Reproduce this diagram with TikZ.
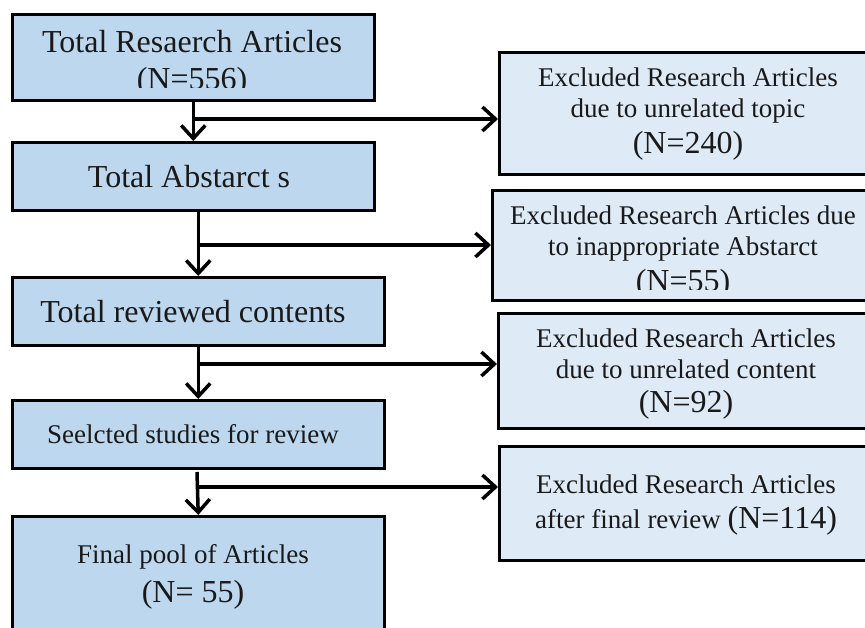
\documentclass[tikz,border=0pt]{standalone}
\usepackage{fontspec}
\setmainfont{Liberation Serif}
\usetikzlibrary{arrows.meta}
\definecolor{leftfill}{HTML}{BDD7EE}
\definecolor{rightfill}{HTML}{DEEAF6}
\newcommand{\fsmall}{\fontsize{27}{31}\selectfont}
\newcommand{\fbig}{\fontsize{32}{31}\selectfont}
\tikzset{
  lbox/.style={draw=black, line width=2.5pt, fill=leftfill, rectangle, inner sep=0pt, anchor=north west},
  rbox/.style={draw=black, line width=2.5pt, fill=rightfill, rectangle, inner sep=0pt, anchor=north west},
  txt/.style={align=center, inner sep=0pt, anchor=base, text=black!90},
  conn/.style={line width=3.5pt, -{Straight Barb[length=13pt,width=24pt]}},
  plain/.style={line width=3.5pt}
}
\begin{document}
\begin{tikzpicture}[x=1pt,y=-1pt]
\useasboundingbox (0,0) rectangle (865,627);
\begin{scope}
\clip (0,0) rectangle (865,627);
% left boxes
\node[lbox, minimum width=362pt, minimum height=86pt] (b1) at (11,13) {};
\node[lbox, minimum width=362pt, minimum height=68pt] (b2) at (11,141) {};
\node[lbox, minimum width=372pt, minimum height=68pt] (b3) at (11,276) {};
\node[lbox, minimum width=372pt, minimum height=68pt] (b4) at (11,399) {};
\node[lbox, minimum width=372pt, minimum height=125pt] (b5) at (11,515) {};
% right boxes
\node[rbox, minimum width=382pt, minimum height=122pt] (r1) at (498,51) {};
\node[rbox, minimum width=389pt, minimum height=110pt] (r2) at (491,189) {};
\node[rbox, minimum width=383pt, minimum height=115pt] (r3) at (497,312) {};
\node[rbox, minimum width=382pt, minimum height=114pt] (r4) at (498,445) {};
\end{scope}
% texts (anchor=base is the baseline of the last line)
\begin{scope}
\clip (13,15) rectangle (371,87);
\node[txt, font=\fbig] (t1) at (192,89) {Total Resaerch Articles\\[6pt](N=556)};
\end{scope}
\node[txt, font=\fbig] (t2) at (189,187) {Total Abstarct s};
\node[txt, font=\fbig] (t3) at (193,322) {Total reviewed contents};
\node[txt, font=\fsmall] (t4) at (193,443) {Seelcted studies for review};
\node[txt, font=\fsmall] (t5) at (193,602) {Final pool of Articles\\[8pt]{\fbig (N= 55)}};
\node[txt, font=\fsmall] (t6) at (688,153) {Excluded Research Articles\\due to unrelated topic\\[5pt]{\fbig (N=240)}};
\begin{scope}
\clip (493,191) rectangle (865,289);
\node[txt, font=\fsmall] (t7) at (683,291) {Excluded Research Articles due\\to inappropriate Abstarct\\[5pt]{\fbig (N=55)}};
\end{scope}
\node[txt, font=\fsmall] (t8) at (686,412) {Excluded Research Articles\\due to unrelated content\\[3pt]{\fbig (N=92)}};
\node[txt, font=\fsmall] (t9) at (686,528) {Excluded Research Articles\\[4pt]after final review {\fbig (N=114)}};
% connectors
\coordinate (j1) at (192,119);
\coordinate (j2) at (197,245);
\coordinate (j3) at (197,364);
\coordinate (j4) at (197,487);
\coordinate (s4) at (197,472);
\draw[conn] (b1.south) -- (b2.north);
\draw[conn] (j1) -- (j1 -| r1.west);
\draw[conn] (b3.north |- b2.south) -- (b3.north);
\draw[conn] (j2) -- (j2 -| r2.west);
\draw[conn] (b3.south) -- (b4.north);
\draw[conn] (j3) -- (j3 -| r3.west);
\draw[conn] (s4) -- (b5.north);
\draw[conn] (j4) -- (j4 -| r4.west);
\end{tikzpicture}
\end{document}
